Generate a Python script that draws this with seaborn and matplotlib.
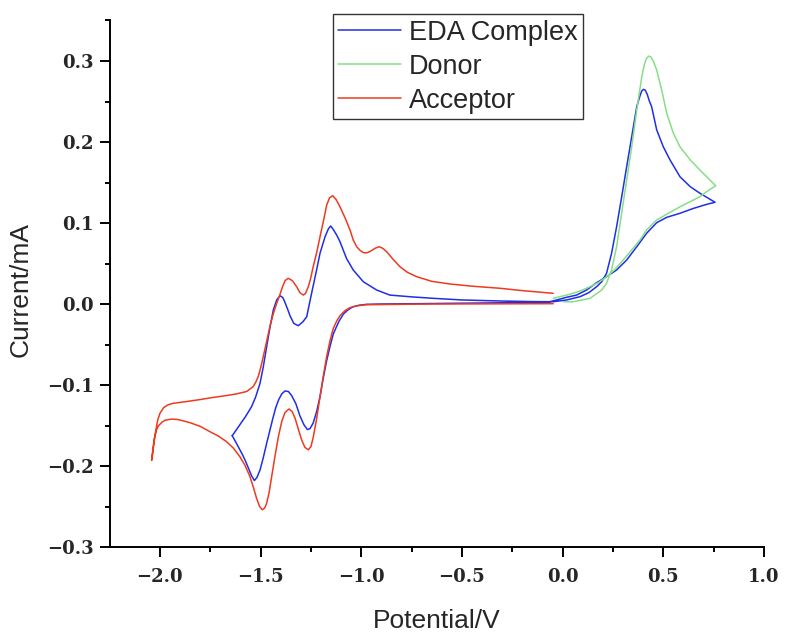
import matplotlib
matplotlib.use("Agg")
import matplotlib.pyplot as plt
import seaborn as sns
import pandas as pd
from matplotlib.ticker import AutoMinorLocator

# ---------------- data ----------------
SERIES = ["EDA Complex", "Donor", "Acceptor"]
COLORS = ["#1f2fe6", "#86de86", "#ee3a1f"]

EDA_X = [-1.641, -1.625, -1.603, -1.575, -1.545, -1.525, -1.503, -1.487, -1.470, -1.453,
         -1.437, -1.420, -1.404, -1.390, -1.379, -1.365, -1.354, -1.335, -1.313, -1.290,
         -1.271, -1.247, -1.222, -1.205, -1.180, -1.163, -1.152, -1.139, -1.122, -1.106,
         -1.073, -1.040, -0.990, -0.924, -0.858, -0.750, -0.642, -0.500, -0.311, -0.150,
         -0.047, 0.020, 0.086, 0.130, 0.169, 0.194, 0.218, 0.243, 0.268, 0.293,
         0.318, 0.343, 0.368, 0.384, 0.393, 0.401, 0.410, 0.420, 0.430, 0.442,
         0.467, 0.500, 0.533, 0.583, 0.633, 0.682, 0.757, 0.715, 0.649, 0.583,
         0.517, 0.467, 0.417, 0.368, 0.318, 0.268, 0.218, 0.169, 0.119, 0.069,
         0.020, -0.063, -0.300, -0.642, -0.900, -0.973, -1.010, -1.040, -1.065, -1.089,
         -1.110, -1.125, -1.139, -1.155, -1.172, -1.190, -1.205, -1.222, -1.239, -1.255,
         -1.268, -1.285, -1.305, -1.325, -1.346, -1.362, -1.379, -1.395, -1.410, -1.425,
         -1.440, -1.455, -1.470, -1.487, -1.503, -1.518, -1.531, -1.545, -1.560, -1.575,
         -1.590, -1.603, -1.620, -1.641]
EDA_Y = [-0.1626, -0.157, -0.149, -0.139, -0.1268, -0.115, -0.098, -0.078, -0.0527, -0.028,
         -0.0074, 0.005, 0.0102, 0.008, 0.002, -0.007, -0.0145, -0.024, -0.0268, -0.022,
         -0.0157, 0.013, 0.042, 0.0626, 0.083, 0.093, 0.0963, 0.092, 0.085, 0.077,
         0.056, 0.042, 0.0275, 0.0173, 0.011, 0.0088, 0.007, 0.005, 0.0037, 0.003,
         0.0028, 0.005, 0.009, 0.014, 0.0214, 0.0275, 0.0379, 0.0626, 0.0954, 0.132,
         0.1695, 0.2065, 0.2436, 0.257, 0.263, 0.265, 0.264, 0.259, 0.251, 0.2436,
         0.215, 0.194, 0.178, 0.157, 0.145, 0.1367, 0.1256, 0.123, 0.118, 0.112,
         0.107, 0.1004, 0.0873, 0.0707, 0.0543, 0.042, 0.0337, 0.0263, 0.0173, 0.011,
         0.0083, 0.0028, 0.0015, 0.0006, 0.0, -0.0004, -0.0015, -0.0033, -0.007, -0.0125,
         -0.021, -0.029, -0.037, -0.052, -0.070, -0.093, -0.1144, -0.133, -0.147, -0.154,
         -0.155, -0.149, -0.138, -0.123, -0.113, -0.108, -0.1074, -0.111, -0.118, -0.128,
         -0.142, -0.157, -0.172, -0.190, -0.205, -0.214, -0.218, -0.212, -0.203, -0.194,
         -0.186, -0.180, -0.172, -0.1626]

DONOR_X = [0.003, 0.053, 0.136, 0.194, 0.218, 0.243, 0.268, 0.293, 0.318, 0.343,
           0.368, 0.393, 0.406, 0.416, 0.427, 0.438, 0.450, 0.467, 0.492, 0.517,
           0.550, 0.583, 0.633, 0.682, 0.760, 0.715, 0.682, 0.633, 0.583, 0.525,
           0.467, 0.417, 0.384, 0.343, 0.301, 0.260, 0.218, 0.177, 0.136, 0.078,
           0.020, -0.047]
DONOR_Y = [0.0028, 0.0028, 0.007, 0.0173, 0.0255, 0.042, 0.0707, 0.112, 0.153, 0.194,
           0.2395, 0.2806, 0.296, 0.303, 0.306, 0.305, 0.300, 0.289, 0.264, 0.2354,
           0.2107, 0.194, 0.178, 0.1654, 0.146, 0.1387, 0.1325, 0.1263, 0.120, 0.112,
           0.1037, 0.0914, 0.079, 0.0667, 0.0543, 0.0428, 0.0337, 0.0263, 0.0214, 0.0152,
           0.011, 0.007]

ACC_X = [-0.047, -0.200, -0.311, -0.450, -0.560, -0.650, -0.725, -0.770, -0.808, -0.845,
         -0.874, -0.895, -0.911, -0.930, -0.955, -0.975, -0.990, -1.005, -1.023, -1.040,
         -1.056, -1.080, -1.106, -1.125, -1.142, -1.158, -1.172, -1.185, -1.205, -1.222,
         -1.239, -1.252, -1.263, -1.277, -1.288, -1.305, -1.321, -1.343, -1.363, -1.378,
         -1.391, -1.405, -1.420, -1.437, -1.454, -1.470, -1.487, -1.500, -1.512, -1.525,
         -1.537, -1.569, -1.620, -1.669, -1.740, -1.801, -1.870, -1.934, -1.960, -1.982,
         -2.000, -2.012, -2.020, -2.030, -2.041, -2.034, -2.028, -2.018, -2.008, -1.990,
         -1.975, -1.945, -1.917, -1.885, -1.851, -1.800, -1.752, -1.710, -1.669, -1.635,
         -1.603, -1.578, -1.553, -1.535, -1.520, -1.505, -1.492, -1.480, -1.470, -1.458,
         -1.445, -1.428, -1.412, -1.395, -1.379, -1.359, -1.343, -1.329, -1.312, -1.296,
         -1.280, -1.263, -1.250, -1.239, -1.222, -1.205, -1.188, -1.172, -1.155, -1.139,
         -1.122, -1.106, -1.080, -1.056, -1.020, -0.973, -0.800, -0.642, -0.047]
ACC_Y = [0.0132, 0.0165, 0.0194, 0.022, 0.0247, 0.028, 0.0337, 0.039, 0.046, 0.056,
         0.0646, 0.069, 0.0707, 0.069, 0.065, 0.063, 0.0635, 0.066, 0.0707, 0.079,
         0.0914, 0.106, 0.120, 0.129, 0.1337, 0.131, 0.122, 0.106, 0.083, 0.063,
         0.046, 0.031, 0.0214, 0.013, 0.011, 0.014, 0.0214, 0.029, 0.0317, 0.029,
         0.0215, 0.011, 0.0009, -0.012, -0.028, -0.046, -0.065, -0.079, -0.0898, -0.097,
         -0.102, -0.108, -0.111, -0.113, -0.1155, -0.118, -0.1205, -0.1226, -0.1245, -0.128,
         -0.135, -0.144, -0.1556, -0.172, -0.193, -0.178, -0.166, -0.156, -0.1505, -0.146,
         -0.1435, -0.1422, -0.1424, -0.1442, -0.1465, -0.151, -0.1576, -0.163, -0.170, -0.178,
         -0.1885, -0.199, -0.213, -0.227, -0.240, -0.250, -0.254, -0.252, -0.246, -0.233,
         -0.213, -0.187, -0.164, -0.145, -0.134, -0.1296, -0.133, -0.141, -0.155, -0.168,
         -0.177, -0.180, -0.176, -0.165, -0.142, -0.1144, -0.088, -0.065, -0.045, -0.030,
         -0.021, -0.0145, -0.008, -0.0045, -0.0022, -0.0009, -0.0004, 0.0, 0.0004]

X_TICKS = [-2.0, -1.5, -1.0, -0.5, 0.0, 0.5, 1.0]
X_TICK_LABELS = ["\u22122.0", "\u22121.5", "\u22121.0", "\u22120.5", "0.0", "0.5", "1.0"]
Y_TICKS = [-0.3, -0.2, -0.1, 0.0, 0.1, 0.2, 0.3]
Y_TICK_LABELS = ["\u22120.3", "\u22120.2", "\u22120.1", "0.0", "0.1", "0.2", "0.3"]
X_LABEL = "Potential/V"
Y_LABEL = "Current/mA"

# ---------------- plot ----------------
sns.set_style("ticks")
plt.rcParams["font.family"] = ["Liberation Sans", "DejaVu Sans"]

fig = plt.figure(figsize=(7.86, 6.32), dpi=100)
ax = fig.add_axes([110 / 786, 85 / 632, 654 / 786, 526.5 / 632])

curves = [(EDA_X, EDA_Y), (DONOR_X, DONOR_Y), (ACC_X, ACC_Y)]
for name, color, (xs, ys) in zip(SERIES, COLORS, curves):
    df = pd.DataFrame({"E": xs, "I": ys})
    sns.lineplot(data=df, x="E", y="I", sort=False, estimator=None,
                 color=color, linewidth=1.1, label=name, ax=ax)

ax.set_xlim(-2.248, 1.0)
ax.set_ylim(-0.3, 0.35)
ax.set_xticks(X_TICKS)
ax.set_xticklabels(X_TICK_LABELS)
ax.set_yticks(Y_TICKS)
ax.set_yticklabels(Y_TICK_LABELS)
ax.xaxis.set_minor_locator(AutoMinorLocator(2))
ax.yaxis.set_minor_locator(AutoMinorLocator(2))

for lab in ax.get_xticklabels() + ax.get_yticklabels():
    lab.set_fontfamily("DejaVu Serif")
    lab.set_fontweight("bold")
    lab.set_fontsize(13)

ax.tick_params(which="major", direction="out", length=7, width=1.4, color="black", pad=5)
ax.tick_params(which="minor", direction="out", length=3.5, width=1.4, color="black")
ax.tick_params(axis="x", which="major", pad=8)

for side in ["top", "right"]:
    ax.spines[side].set_visible(False)
for side in ["left", "bottom"]:
    ax.spines[side].set_linewidth(1.4)
    ax.spines[side].set_color("black")

ax.set_xlabel(X_LABEL, fontsize=19, labelpad=17)
ax.set_ylabel(Y_LABEL, fontsize=19)
ax.yaxis.set_label_coords(-0.118, 0.49)

leg = ax.legend(loc="upper left", bbox_to_anchor=(0.341, 1.012), borderaxespad=0,
                fontsize=19.5, frameon=True, fancybox=False, handlelength=2.3,
                handletextpad=0.3, labelspacing=0.3, borderpad=0.2)
leg.get_frame().set_edgecolor("black")
leg.get_frame().set_linewidth(1.0)

fig.savefig("out.png", dpi=100)
